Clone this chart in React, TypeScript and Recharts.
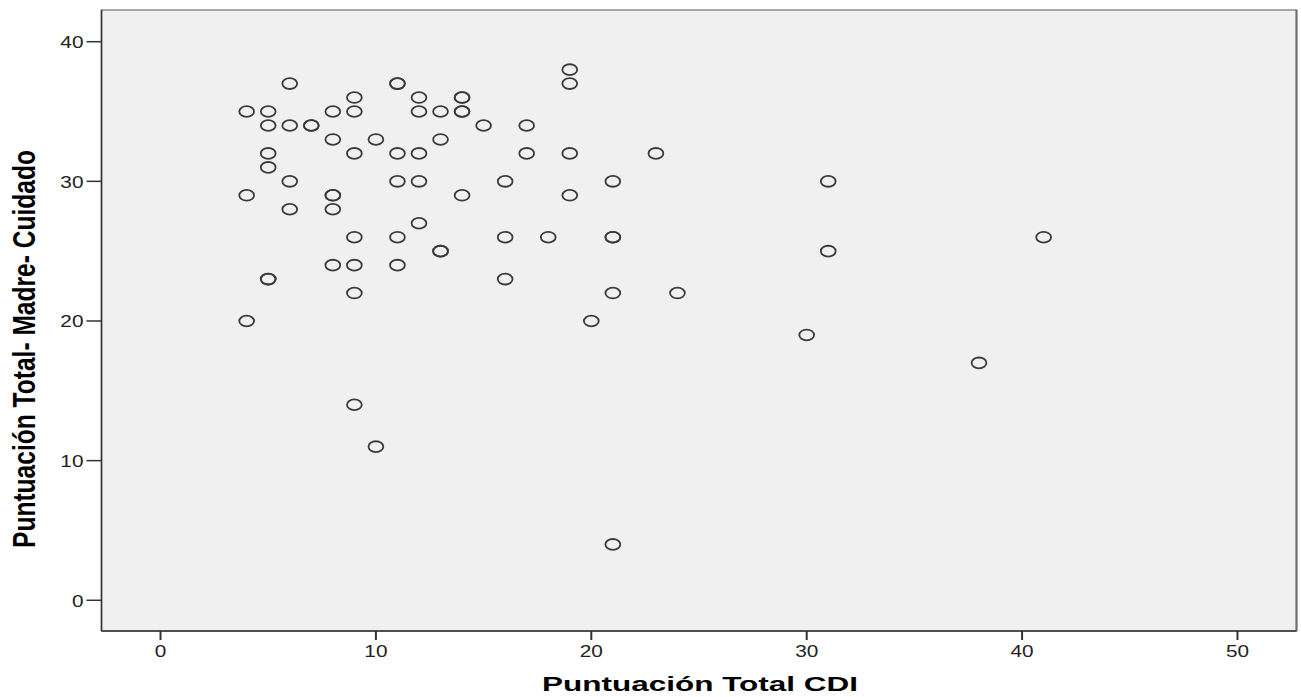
import { ScatterChart, Scatter, XAxis, YAxis, ReferenceArea, ReferenceLine } from "recharts";

// Puntuación Total CDI (x) paired with Puntuación Total- Madre- Cuidado (y)
const cdiScores = [
  19,
  6, 11, 11, 19,
  9, 12, 14, 14,
  4, 5, 8, 9, 12, 13, 14, 14,
  5, 6, 7, 7, 15, 17,
  8, 10, 13,
  5, 9, 11, 12, 17, 19, 23,
  5,
  6, 11, 12, 16, 21, 31,
  4, 8, 8, 14, 19,
  6, 8,
  12,
  9, 11, 16, 18, 21, 21, 41,
  13, 13, 31,
  8, 9, 11,
  5, 5, 16,
  9, 21, 24,
  4, 20,
  30,
  38,
  9,
  10,
  21,
];
const madreScores = [
  38,
  37, 37, 37, 37,
  36, 36, 36, 36,
  35, 35, 35, 35, 35, 35, 35, 35,
  34, 34, 34, 34, 34, 34,
  33, 33, 33,
  32, 32, 32, 32, 32, 32, 32,
  31,
  30, 30, 30, 30, 30, 30,
  29, 29, 29, 29, 29,
  28, 28,
  27,
  26, 26, 26, 26, 26, 26, 26,
  25, 25, 25,
  24, 24, 24,
  23, 23, 23,
  22, 22, 22,
  20, 20,
  19,
  17,
  14,
  11,
  4,
];
const xTicks = [0, 10, 20, 30, 40, 50];
const yTicks = [0, 10, 20, 30, 40];

const points = cdiScores.map((x, i) => ({ x, y: madreScores[i] }));

const X_MIN = -2.74;
const X_MAX = 52.74;
const Y_MIN = -2.2;
const Y_MAX = 42.27;
const FONT = "'Liberation Sans', Arial, sans-serif";

const XTick = (props: any) => {
  const { x, y, payload } = props;
  return (
    <g transform={`translate(${x},${y + 16.5})`}>
      <text textAnchor="middle" transform="scale(1.3,1)" fontSize={16} fill="#222" fontFamily={FONT}>
        {payload.value}
      </text>
    </g>
  );
};

const YTick = (props: any) => {
  const { x, y, payload } = props;
  return (
    <g transform={`translate(${x - 3},${y + 6.5})`}>
      <text textAnchor="end" transform="scale(1.3,1)" fontSize={16} fill="#222" fontFamily={FONT}>
        {payload.value}
      </text>
    </g>
  );
};

const Ring = (props: any) => (
  <ellipse cx={props.cx} cy={props.cy} rx={7.4} ry={5.4} fill="none" stroke="#3a3a3a" strokeWidth={1.8} />
);

export default function App() {
  return (
    <div style={{ position: "absolute", left: 0, top: 0 }}>
      <ScatterChart width={1301} height={697} margin={{ top: 10, right: 4.5, bottom: 0, left: 0 }}>
        <ReferenceArea
          x1={X_MIN}
          x2={X_MAX}
          y1={Y_MIN}
          y2={Y_MAX}
          fill="#f0f0f0"
          fillOpacity={1}
          stroke="#8c8c8c"
          strokeWidth={1.5}
        />
        <ReferenceLine x={X_MAX} stroke="#6e6e6e" strokeWidth={2} />
        <XAxis
          dataKey="x"
          type="number"
          domain={[X_MIN, X_MAX]}
          ticks={xTicks}
          allowDataOverflow
          height={66}
          tickSize={9}
          tickMargin={0}
          axisLine={{ stroke: "#333", strokeWidth: 1.5 }}
          tickLine={{ stroke: "#333", strokeWidth: 2 }}
          tick={XTick}
          label={{
            content: () => (
              <text
                x={700}
                y={691}
                textAnchor="middle"
                fontSize={20}
                fontWeight="bold"
                fill="#000"
                fontFamily={FONT}
                textLength={316}
                lengthAdjust="spacingAndGlyphs"
              >
                Puntuación Total CDI
              </text>
            ),
          }}
        />
        <YAxis
          dataKey="y"
          type="number"
          domain={[Y_MIN, Y_MAX]}
          ticks={yTicks}
          allowDataOverflow
          width={101.5}
          tickSize={15}
          tickMargin={0}
          axisLine={{ stroke: "#333", strokeWidth: 1.5 }}
          tickLine={{ stroke: "#333", strokeWidth: 1.5 }}
          tick={YTick}
          label={{
            content: () => (
              <text
                transform="translate(35,349) scale(1.3,1) rotate(-90)"
                textAnchor="middle"
                fontSize={24}
                fontWeight="bold"
                fill="#000"
                fontFamily={FONT}
                textLength={398}
                lengthAdjust="spacingAndGlyphs"
              >
                Puntuación Total- Madre- Cuidado
              </text>
            ),
          }}
        />
        <Scatter data={points} shape={Ring} isAnimationActive={false} />
      </ScatterChart>
    </div>
  );
}
